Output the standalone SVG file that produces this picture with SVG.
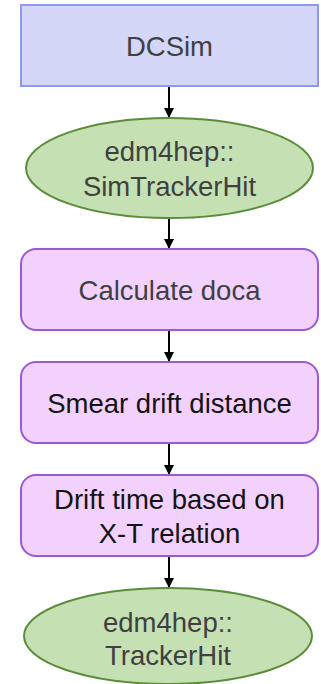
<svg xmlns="http://www.w3.org/2000/svg" width="321" height="684" viewBox="0 0 321 684">
<defs>
<style>
.blue{fill:#d4d7f8;stroke:#8e97f0;stroke-width:2}
.green{fill:#c5e0b3;stroke:#5b8c3a;stroke-width:2}
.purple{fill:#f2d1fc;stroke:#9b58d8;stroke-width:2}
text{font-family:"Liberation Sans",Arial,sans-serif;font-size:27.5px;text-anchor:middle}
.gray{fill:#404040}
.dark{fill:#141414}
.conn line{stroke:#000;stroke-width:2}
</style>
<marker id="arr" viewBox="0 0 10 10" refX="10" refY="5" markerWidth="5" markerHeight="5" orient="auto" markerUnits="strokeWidth">
<path d="M0,0 L10,5 L0,10 z" fill="#000"/>
</marker>
</defs>
<rect width="321" height="684" fill="#fff"/>
<g id="connectors" class="conn">
<line x1="169" y1="86" x2="169" y2="118" marker-end="url(#arr)"/>
<line x1="169" y1="218" x2="169" y2="249" marker-end="url(#arr)"/>
<line x1="169" y1="330" x2="169" y2="362" marker-end="url(#arr)"/>
<line x1="169" y1="443" x2="169" y2="475" marker-end="url(#arr)"/>
<line x1="169" y1="556" x2="169" y2="588" marker-end="url(#arr)"/>
</g>
<g id="dcsim">
<rect class="blue" x="21" y="5" width="297" height="81"/>
<text class="gray" x="169.5" y="56">DCSim</text>
</g>
<g id="simtrackerhit">
<ellipse class="green" cx="169.5" cy="168" rx="143.5" ry="50"/>
<text class="gray" x="169.5" y="161">edm4hep::</text>
<text class="gray" x="169.5" y="196">SimTrackerHit</text>
</g>
<g id="calcdoca">
<rect class="purple" x="21" y="249" width="297" height="81" rx="15"/>
<text class="gray" x="169.5" y="300">Calculate doca</text>
</g>
<g id="smear">
<rect class="purple" x="21" y="362" width="297" height="81" rx="15"/>
<text class="dark" x="169.5" y="413">Smear drift distance</text>
</g>
<g id="drifttime">
<rect class="purple" x="21" y="475" width="297" height="81" rx="15"/>
<text class="dark" x="169.5" y="509">Drift time based on</text>
<text class="dark" x="169.5" y="543">X-T relation</text>
</g>
<g id="trackerhit">
<ellipse class="green" cx="168" cy="636" rx="144" ry="48"/>
<text class="gray" x="168" y="632">edm4hep::</text>
<text class="gray" x="168" y="665">TrackerHit</text>
</g>
</svg>
